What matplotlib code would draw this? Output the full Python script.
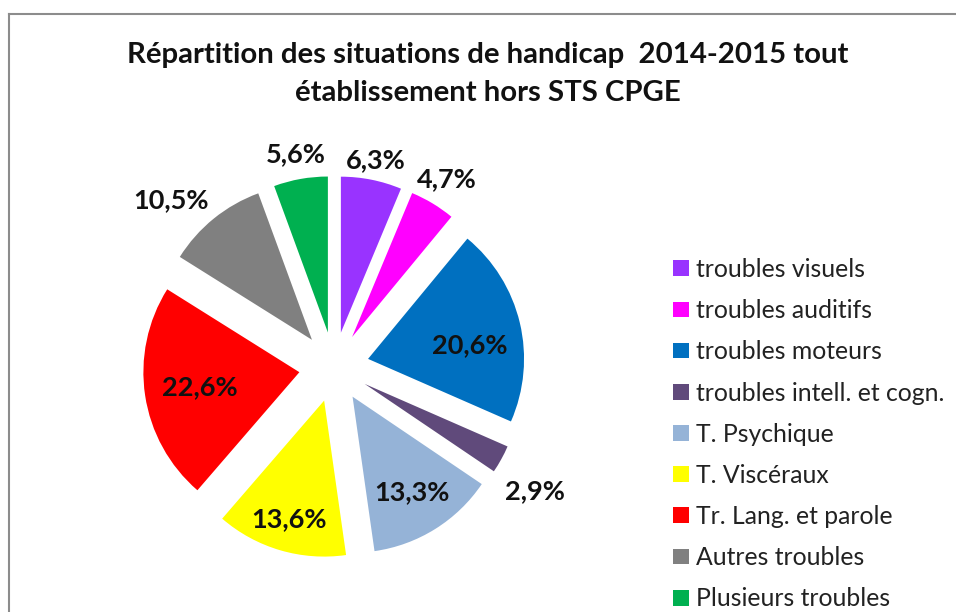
import matplotlib.pyplot as plt
import numpy as np

categories = ["troubles visuels", "troubles auditifs", "troubles moteurs",
              "troubles intell. et cogn.", "T. Psychique", "T. Viscéraux",
              "Tr. Lang. et parole", "Autres troubles", "Plusieurs troubles"]
values = [6.3, 4.7, 20.6, 2.9, 13.3, 13.6, 22.6, 10.5, 5.6]
pct_labels = ["6,3%", "4,7%", "20,6%", "2,9%", "13,3%", "13,6%", "22,6%", "10,5%", "5,6%"]
colors = ["#9933FF", "#FF00FF", "#0070C0", "#604A7B", "#95B3D7",
          "#FFFF00", "#FF0000", "#808080", "#00B050"]
# placement of each percent label: radial distance (x radius) and angle shift (deg)
label_dist = [1.13, 1.18, 0.66, 1.29, 0.72, 0.79, 0.645, 1.27, 1.16]
label_shift = [0, 0, -5.5, -3.4, 0, 0, 0, 6.3, 0]

plt.rcParams['font.family'] = ['Lato', 'DejaVu Sans']

fig = plt.figure(figsize=(9.56, 6.12), dpi=100)
ax = fig.add_axes([0, 0, 1, 1])

# axes in pixel units
cx, cy, R = 334, 245, 156
wedges, _ = ax.pie(values, colors=colors, startangle=90, counterclock=False,
                   explode=[35] * len(values), center=(cx, cy), radius=R)

for w, lab, d, s in zip(wedges, pct_labels, label_dist, label_shift):
    th = np.deg2rad((w.theta1 + w.theta2) / 2 + s)
    x0, y0 = w.center
    ax.text(x0 + d * w.r * np.cos(th), y0 + d * w.r * np.sin(th), lab,
            ha='center', va='center', fontsize=19.5, fontweight='bold', color='#111111')

ax.set_xlim(0, 956)
ax.set_ylim(0, 612)
ax.set_aspect('auto')
ax.axis('off')

# title
ax.text(488, 612 - 55, "Répartition des situations de handicap  2014-2015 tout",
        ha='center', va='center', fontsize=21.2, fontweight='bold', color='#111111')
ax.text(488, 612 - 93, "établissement hors STS CPGE",
        ha='center', va='center', fontsize=21.2, fontweight='bold', color='#111111')

# chart frame
ax.plot([9, 9], [0, 598], color='#8c8c8c', lw=1.5, clip_on=False)
ax.plot([9, 956], [598, 598], color='#8c8c8c', lw=1.5, clip_on=False)

ax.legend(wedges, categories, loc='upper left',
          bbox_to_anchor=(673 / 956, 1 - 258 / 612), frameon=False,
          fontsize=17.8, handlelength=0.65, handleheight=0.6, handletextpad=0.28,
          labelspacing=0.735, borderpad=0, borderaxespad=0, labelcolor='#222222')

fig.savefig("out.png", dpi=100)
